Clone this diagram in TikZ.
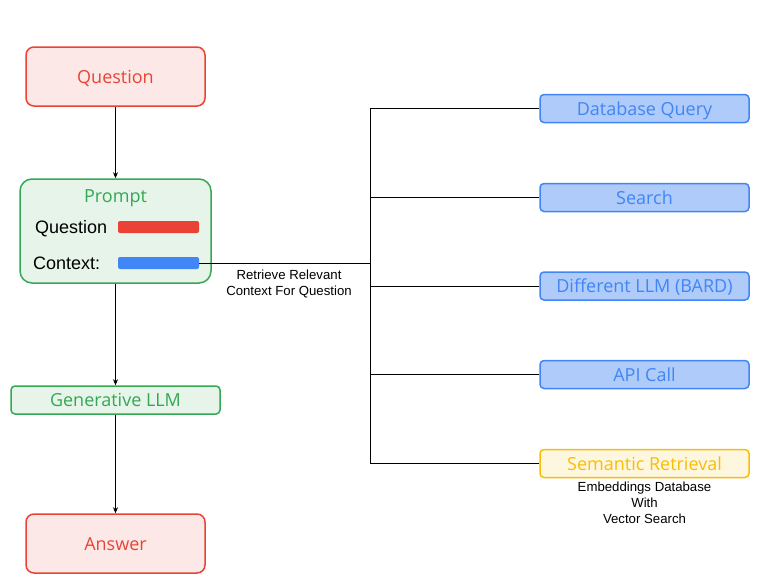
\documentclass[tikz,border=0pt]{standalone}
\usepackage{fontspec}
\setmainfont{Liberation Sans}
\newfontfamily\boxfont{Open Sans}
\usetikzlibrary{arrows.meta}
\definecolor{gred}{HTML}{EA4335}
\definecolor{gredfill}{HTML}{FCE8E6}
\definecolor{ggreen}{HTML}{34A853}
\definecolor{ggreenfill}{HTML}{E6F4EA}
\definecolor{gblue}{HTML}{4285F4}
\definecolor{gbluefill}{HTML}{AECBFA}
\definecolor{gyellow}{HTML}{FBBC04}
\definecolor{gyellowfill}{HTML}{FEF7E0}
\tikzset{
  base/.style={line width=1.5pt, inner sep=0pt, text height=13pt, text depth=0pt,
    font=\boxfont\fontsize{18}{20}\selectfont},
  redbox/.style={base, draw=gred, fill=gredfill, text=gred, rounded corners=8pt,
    minimum width=179pt, minimum height=59pt},
  greenbox/.style={base, draw=ggreen, fill=ggreenfill, text=ggreen, rounded corners=4pt},
  bluebox/.style={base, draw=gblue, fill=gbluefill, text=gblue, rounded corners=4pt,
    minimum width=209pt, minimum height=28pt},
  yellowbox/.style={base, draw=gyellow, fill=gyellowfill, text=gyellow, rounded corners=4pt,
    minimum width=209pt, minimum height=28pt},
  bar/.style={rounded corners=2pt, inner sep=0pt, minimum width=81pt, minimum height=12pt},
  plain/.style={inner sep=0pt, text height=13pt, text depth=0pt, font=\fontsize{18}{20}\selectfont},
  small/.style={inner sep=0pt, align=center, font=\fontsize{13.2}{16}\selectfont},
  link/.style={line width=0.8pt, black},
  flow/.style={link, -{Stealth[length=6pt,width=5pt]}},
}
\begin{document}
\begin{tikzpicture}[x=1pt,y=-1pt]
\useasboundingbox (0,0) rectangle (757,579);

% left column
\node[redbox] (question) at (115.5,76.5) {Question};
\node[greenbox, rounded corners=12pt, minimum width=191pt, minimum height=104pt] (prompt) at (115.5,231) {};
\node[base, text=ggreen] (ptitle) at (115.5,196) {Prompt};
\node[plain, anchor=west] (qlabel) at (35,227) {Question};
\node[plain, anchor=west] (clabel) at (33,263) {Context:};
\node[bar, fill=gred] (qbar) at (158.5,227) {};
\node[bar, fill=gblue] (cbar) at (158.5,263) {};
\node[greenbox, minimum width=209pt, minimum height=28pt] (gen) at (115.5,400) {Generative LLM};
\node[redbox] (answer) at (115.5,543.5) {Answer};

\draw[flow] (question) -- (prompt);
\draw[flow] (prompt) -- (gen);
\draw[flow] (gen) -- (answer);

% retrieval sources
\node[bluebox] (db) at (644.5,108.5) {Database Query};
\node[bluebox] (search) at (644.5,197.5) {Search};
\node[bluebox] (llm) at (644.5,286) {Different LLM (BARD)};
\node[bluebox] (api) at (644.5,374.5) {API Call};
\node[yellowbox] (sem) at (644.5,463.5) {Semantic Retrieval};
\node[small, anchor=north] (emb) at (sem.south) [yshift=-3pt] {Embeddings Database\\With\\Vector Search};

\coordinate (hub) at (370,263);
\draw[link] (cbar.east) -- (hub);
\draw[link] (db.west -| hub) -- (sem.west -| hub);
\foreach \n in {db,search,llm,api,sem}
  \draw[link] (\n.west) -- (\n.west -| hub);

\node[small] (retr) at (289,284) {Retrieve Relevant\\Context For Question};
\end{tikzpicture}
\end{document}
